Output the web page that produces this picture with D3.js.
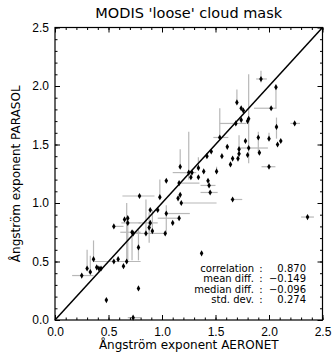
<!DOCTYPE html>
<html>
<head>
<meta charset="utf-8">
<script src="https://cdn.jsdelivr.net/npm/d3@7"></script>
<style>
  body { margin: 0; background: #fff; }
  svg { display: block; font-family: "DejaVu Sans", sans-serif; }
  .tick text { font-size: 12px; fill: #000; }
  .tick line { stroke: #000; }
</style>
</head>
<body>
<svg id="chart" width="334" height="358"></svg>
<script>
const chartTitle = "MODIS 'loose' cloud mask";
const xLabel = "Ångström exponent AERONET";
const yLabel = "Ångström exponent PARASOL";

const majorTicks = [0, 0.5, 1.0, 1.5, 2.0, 2.5];
const minorTicks = d3.range(0, 26).map(i => i / 10);

// AERONET / PARASOL pairs
const aeronet = [
  1.925, 2.065, 1.70, 1.74, 1.76, 1.81, 1.80, 1.74, 1.69, 2.07,
  2.24, 1.54, 2.02, 1.90, 2.00, 2.11, 2.08, 1.78, 1.61, 1.72,
  1.81, 1.46, 1.42, 1.56, 1.66, 1.71, 1.72, 1.80, 1.91, 1.64,
  2.00, 1.51, 1.17, 1.28, 1.25, 1.34, 1.39, 1.27, 1.34, 1.43,
  1.44, 1.45, 1.66, 1.04, 1.16, 0.79, 0.98, 1.15, 1.17, 1.18,
  0.89, 0.96, 1.04, 1.16, 1.10, 0.55, 0.65, 0.68, 0.68, 0.89,
  0.88, 0.91, 0.85, 1.03, 0.72, 0.73, 0.78, 0.55, 0.59, 0.67,
  0.64, 0.36, 0.30, 0.33, 0.39, 0.43, 0.41, 0.25, 0.78, 0.48,
  0.73, 2.36, 1.37
];
const parasol = [
  2.06, 1.99, 1.86, 1.81, 1.79, 1.72, 1.70, 1.71, 1.68, 1.65,
  1.68, 1.56, 1.81, 1.56, 1.55, 1.53, 1.50, 1.53, 1.48, 1.46,
  1.47, 1.44, 1.40, 1.40, 1.38, 1.38, 1.42, 1.41, 1.43, 1.33,
  1.31, 1.27, 1.31, 1.26, 1.26, 1.30, 1.27, 1.22, 1.22, 1.19,
  1.15, 1.09, 1.03, 1.19, 1.17, 1.06, 1.05, 1.04, 1.07, 1.00,
  0.94, 0.94, 0.91, 0.87, 0.83, 0.80, 0.86, 0.87, 0.83, 0.83,
  0.79, 0.76, 0.74, 0.74, 0.75, 0.74, 0.62, 0.50, 0.52, 0.50,
  0.46, 0.52, 0.44, 0.41, 0.45, 0.44, 0.44, 0.38, 0.27, 0.17,
  0.02, 0.88, 0.57
];

// [point index, low, high]
const aeronetRanges = [
  [0, 1.88, 1.98], [8, 1.54, 1.79], [10, 2.20, 2.29], [11, 1.48, 1.62],
  [12, 1.86, 2.07], [20, 1.71, 1.99], [30, 1.93, 2.06], [33, 1.17, 1.30],
  [34, 1.10, 1.32], [40, 1.36, 1.50], [41, 1.36, 1.52], [42, 1.64, 1.75],
  [44, 1.16, 1.35], [45, 0.63, 0.93], [49, 1.17, 1.51], [52, 1.04, 1.26],
  [53, 0.96, 1.16], [55, 0.55, 0.64], [58, 0.62, 0.80], [59, 0.78, 0.96],
  [63, 0.74, 1.03], [64, 0.61, 0.80], [69, 0.36, 0.80], [77, 0.16, 0.36],
  [80, 0.68, 0.80], [81, 2.30, 2.42]
];
const parasolRanges = [
  [0, 2.03, 2.13], [1, 1.81, 1.99], [2, 1.86, 1.97], [5, 1.34, 2.10],
  [9, 1.55, 1.73], [11, 1.56, 1.81], [13, 1.44, 1.61], [14, 1.54, 1.60],
  [19, 1.46, 1.58], [31, 1.27, 1.31], [32, 1.31, 1.46], [34, 1.20, 1.61],
  [35, 1.30, 1.39], [46, 1.05, 1.20], [52, 0.74, 0.98], [58, 0.51, 0.83],
  [60, 0.66, 0.92], [61, 0.76, 0.94], [62, 0.74, 1.03], [64, 0.51, 0.77],
  [66, 0.51, 0.77], [69, 0.50, 1.00], [71, 0.52, 0.68], [72, 0.44, 0.60],
  [73, 0.41, 0.55]
];

const statLabels = ["correlation", "mean diff.", "median diff.", "std. dev."];
const statValues = ["0.870", "\u22120.149", "\u22120.096", "0.274"];

const margin = { left: 55, right: 11.5, top: 27.5, bottom: 38 };
const width = 334 - margin.left - margin.right;
const height = 358 - margin.top - margin.bottom;

const svg = d3.select("#chart");
const g = svg.append("g").attr("transform", `translate(${margin.left},${margin.top})`);

const x = d3.scaleLinear().domain([0, 2.5]).range([0, width]);
const y = d3.scaleLinear().domain([0, 2.5]).range([height, 0]);

const fmt = d3.format(".1f");
const grey = "#b8b8b8";

// error bars
g.selectAll(".xbar")
  .data(aeronetRanges)
  .enter()
  .append("line")
  .attr("x1", d => x(d[1]))
  .attr("x2", d => x(d[2]))
  .attr("y1", d => y(parasol[d[0]]))
  .attr("y2", d => y(parasol[d[0]]))
  .attr("stroke", grey)
  .attr("stroke-width", 1.2);

g.selectAll(".ybar")
  .data(parasolRanges)
  .enter()
  .append("line")
  .attr("x1", d => x(aeronet[d[0]]))
  .attr("x2", d => x(aeronet[d[0]]))
  .attr("y1", d => y(d[1]))
  .attr("y2", d => y(d[2]))
  .attr("stroke", grey)
  .attr("stroke-width", 1.2);

// 1:1 line
g.append("line")
  .attr("x1", x(0)).attr("y1", y(0))
  .attr("x2", x(2.5)).attr("y2", y(2.5))
  .attr("stroke", "#000")
  .attr("stroke-width", 1.5);

// points
const diamond = d3.symbol().type(d3.symbolDiamond).size(11);
g.selectAll(".pt")
  .data(aeronet)
  .enter()
  .append("path")
  .attr("d", diamond)
  .attr("transform", (d, i) => `translate(${x(d)},${y(parasol[i])})`)
  .attr("fill", "#000");

// axes, ticks inward on all sides
const addAxis = (axis, tr, labels) => {
  const a = g.append("g").attr("transform", tr).call(axis);
  a.select(".domain").remove();
  if (!labels) a.selectAll("text").remove();
  return a;
};

addAxis(d3.axisBottom(x).tickValues(minorTicks).tickSize(-2.5).tickFormat(""), `translate(0,${height})`, false);
addAxis(d3.axisBottom(x).tickValues(majorTicks).tickSize(-5).tickPadding(7).tickFormat(fmt), `translate(0,${height})`, true);
addAxis(d3.axisTop(x).tickValues(minorTicks).tickSize(-2.5), "translate(0,0)", false);
addAxis(d3.axisTop(x).tickValues(majorTicks).tickSize(-5), "translate(0,0)", false);
addAxis(d3.axisLeft(y).tickValues(minorTicks).tickSize(-2.5).tickFormat(""), "translate(0,0)", false);
addAxis(d3.axisLeft(y).tickValues(majorTicks).tickSize(-5).tickPadding(6).tickFormat(fmt), "translate(0,0)", true);
addAxis(d3.axisRight(y).tickValues(minorTicks).tickSize(-2.5), `translate(${width},0)`, false);
addAxis(d3.axisRight(y).tickValues(majorTicks).tickSize(-5), `translate(${width},0)`, false);

g.append("rect")
  .attr("width", width)
  .attr("height", height)
  .attr("fill", "none")
  .attr("stroke", "#000")
  .attr("stroke-width", 1.2);

// titles
svg.append("text")
  .attr("x", margin.left + width / 2)
  .attr("y", 18)
  .attr("text-anchor", "middle")
  .attr("font-size", 14.5)
  .text(chartTitle);

svg.append("text")
  .attr("x", margin.left + width / 2)
  .attr("y", 349)
  .attr("text-anchor", "middle")
  .attr("font-size", 12)
  .text(xLabel);

svg.append("text")
  .attr("transform", `translate(20,${margin.top + height / 2}) rotate(-90)`)
  .attr("text-anchor", "middle")
  .attr("font-size", 12)
  .text(yLabel);

// statistics box
const stats = g.append("g").attr("font-size", 10);
statLabels.forEach((lab, i) => {
  const yy = 244.5 + i * 10.4;
  stats.append("text").attr("x", 199).attr("y", yy).attr("text-anchor", "end").text(lab);
  stats.append("text").attr("x", 206).attr("y", yy).attr("text-anchor", "middle").text(":");
  stats.append("text").attr("x", 251).attr("y", yy).attr("text-anchor", "end").text(statValues[i]);
});
</script>
</body>
</html>
